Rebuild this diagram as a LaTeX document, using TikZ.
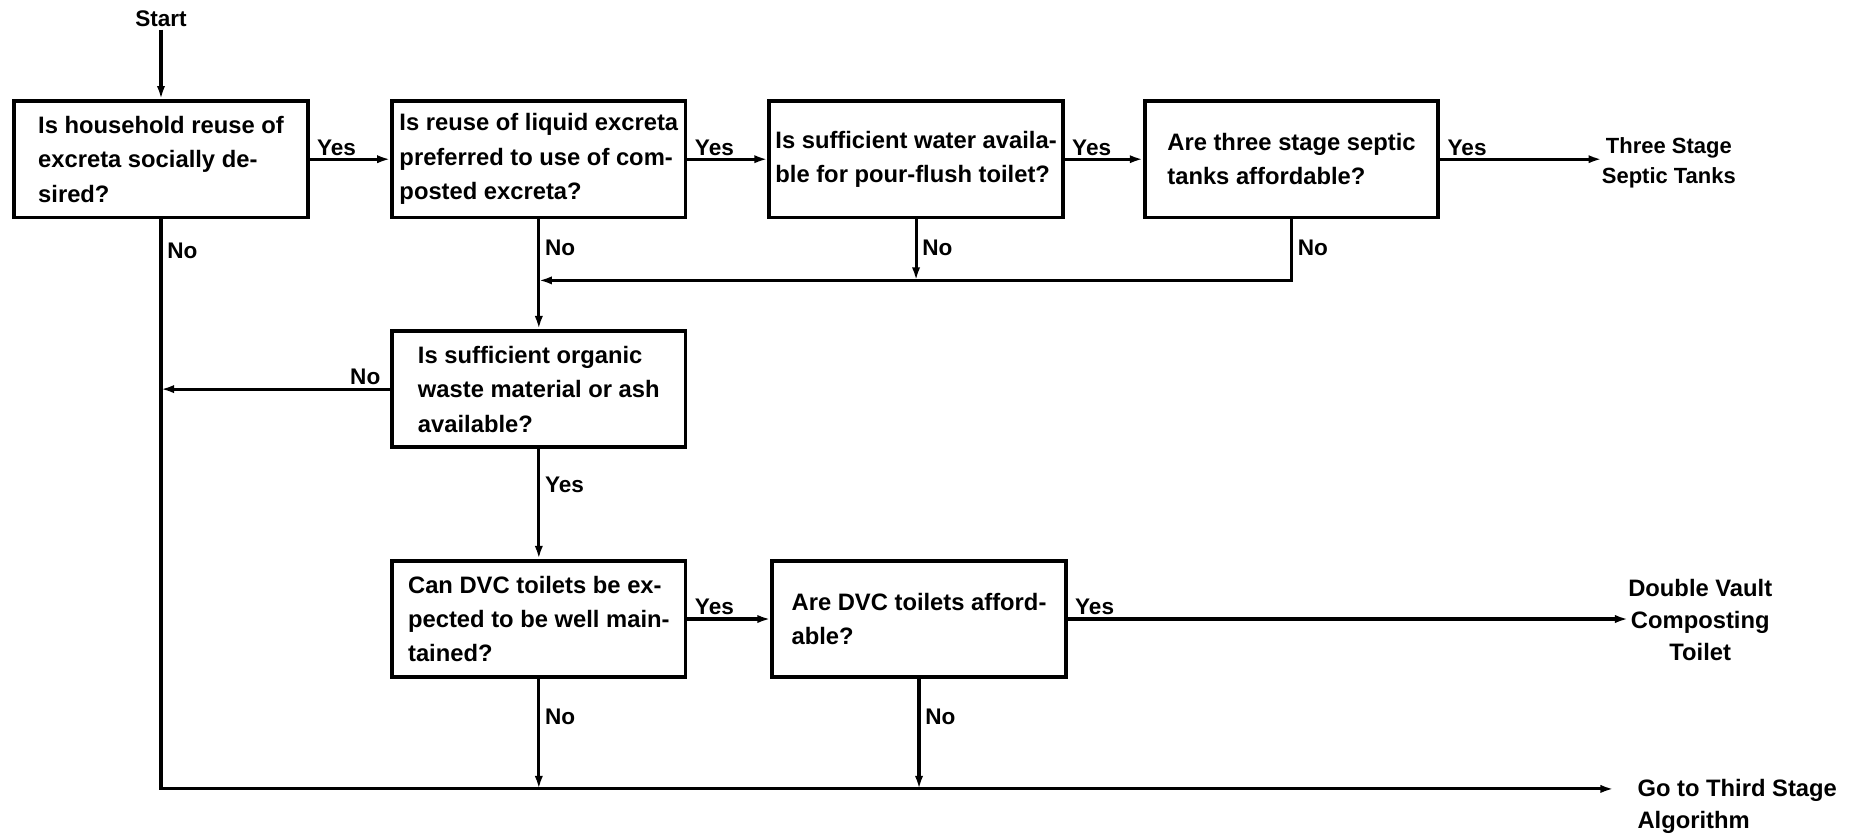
\documentclass[tikz,border=0pt]{standalone}
\usepackage{fontspec}
\setmainfont{Liberation Sans}
\usetikzlibrary{arrows.meta}
\begin{document}
\begin{tikzpicture}[x=1pt,y=-1pt,
  q/.style={draw, line width=3.2pt, minimum width=247pt, minimum height=98pt,
            align=left, inner sep=0pt, font=\bfseries\fontsize{20}{29}\selectfont},
  lbl/.style={font=\bfseries\fontsize{19}{22}\selectfont, inner sep=2pt},
  res/.style={font=\bfseries\fontsize{20}{27}\selectfont, align=center, inner sep=0pt},
  flow/.style={line width=2.6pt},
  arr/.style={flow, -{Latex[length=11pt,width=7pt]}},
  yes/.style={lbl, pos=0, anchor=south west, xshift=3pt},
  down/.style={lbl, pos=0, anchor=north west, yshift=-14pt, xshift=2pt}]
\useasboundingbox (0,0) rectangle (1568,703);

% decision boxes
\node[q] (b1) at (135.5,134) {Is household reuse of\\excreta socially de-\\sired?};
\node[lbl] (start) at (b1.north |- 0,16) {Start};
\node[q] (b2) at (453.5,134) {Is reuse of liquid excreta\\preferred to use of com-\\posted excreta?};
\node[q] (b3) at (771,134) {Is sufficient water availa-\\ble for pour-flush toilet?};
\node[q] (b4) at (1087,134) {Are three stage septic\\tanks affordable?};
\node[q] (b5) at (453.5,327.5) {Is sufficient organic\\waste material or ash\\available?};
\node[q] (b6) at (453.5,521) {Can DVC toilets be ex-\\pected to be well main-\\tained?};
\node[q] (b7) at (773.5,521) {Are DVC toilets afford-\\able?};

% outcomes
\node[res, anchor=west, font=\bfseries\fontsize{18.5}{26}\selectfont] (r1) at (1348,137) {Three Stage\\Septic Tanks};
\node[res] (r2) at (1431,522) {Double Vault\\Composting\\Toilet};
\node[res, anchor=west, align=left] (r3) at (1378,679) {Go to Third Stage\\Algorithm};

% junctions
\coordinate (end3) at (1358,664);
\coordinate (j1) at (b3.south |- 0,236);
\coordinate (j2) at (b2.south |- j1);
\coordinate (j3) at (b1.south |- b5.west);
\coordinate (j4) at (b6.south |- end3);
\coordinate (j5) at (b7.south |- end3);

% connectors
\draw[arr] (start) -- (b1);
\draw[arr] (b1) -- node[yes] {Yes} (b2);
\draw[arr] (b2) -- node[yes] {Yes} (b3);
\draw[arr] (b3) -- node[yes] {Yes} (b4);
\draw[arr] (b4.east) -- node[yes] {Yes} (b4.east -| r1.west);

\draw[arr] (b1.south) |- node[down, yshift=-3pt] {No} (end3);
\draw[arr] (b2) -- node[down] {No} (b5);
\draw[arr] (b3) -- node[down] {No} (j1);
\draw[arr] (b4.south) |- node[down] {No} (j2);

\draw[arr] (b5) -- node[lbl, pos=0, anchor=south east, xshift=-5pt] {No} (j3);
\draw[arr] (b5) -- node[down, yshift=-6pt] {Yes} (b6);

\draw[arr] (b6) -- node[yes] {Yes} (b7);
\draw[arr] (b7.east) -- node[yes] {Yes} (b7.east -| r2.west);
\draw[arr] (b6) -- node[down, yshift=-8pt] {No} (j4);
\draw[arr] (b7) -- node[down, yshift=-8pt] {No} (j5);
\end{tikzpicture}
\end{document}
